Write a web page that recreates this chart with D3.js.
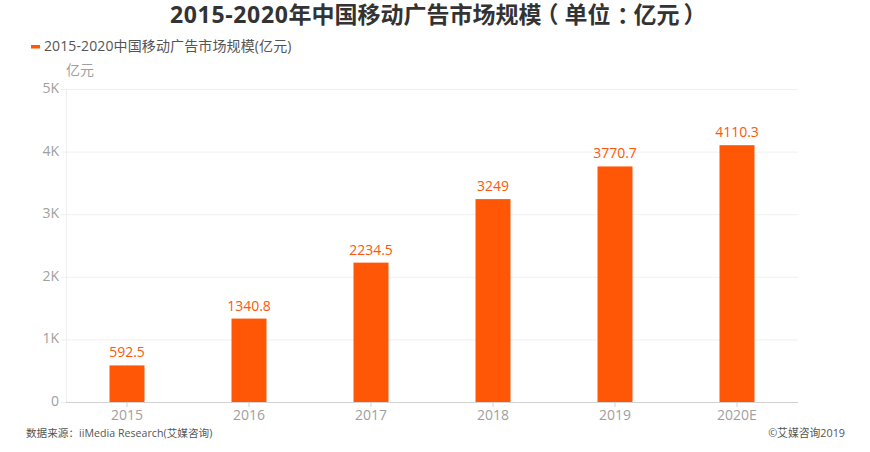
<!DOCTYPE html>
<html><head><meta charset="utf-8">
<script src="https://cdnjs.cloudflare.com/ajax/libs/d3/7.8.5/d3.min.js"></script>
<style>html,body{margin:0;padding:0;background:#fff;overflow:hidden}text{font-family:"Open Sans","Noto Sans CJK SC",sans-serif}</style>
</head><body><svg id="c" width="870" height="452"></svg>
<script>
const categories = ["2015","2016","2017","2018","2019","2020E"];
const values = [592.5,1340.8,2234.5,3249,3770.7,4110.3];
const valueLabels = ["592.5","1340.8","2234.5","3249","3770.7","4110.3"];
const yTicks = [0,1000,2000,3000,4000,5000];
const yTickLabels = ["0","1K","2K","3K","4K","5K"];
const titleText = "2015-2020年中国移动广告市场规模（单位：亿元）";
const legendText = "2015-2020中国移动广告市场规模(亿元)";
const unitText = "亿元";
const sourceText = "数据来源：iiMedia Research(艾媒咨询)";
const copyrightText = "©艾媒咨询2019";
const barColor = "#ff5706";

const svg = d3.select("#c");
const x = d3.scaleBand().domain(categories).range([66,798]);
const y = d3.scaleLinear().domain([0,5000]).range([402.5,89.5]);

svg.append("g").selectAll("line").data(yTicks.slice(1)).join("line")
  .attr("x1",66).attr("x2",798).attr("y1",d=>y(d)).attr("y2",d=>y(d))
  .attr("stroke","#f0f0f0").attr("stroke-width",1);

svg.append("line").attr("x1",66.5).attr("x2",66.5).attr("y1",89).attr("y2",402.5).attr("stroke","#eeeeee");
svg.append("g").selectAll("line").data(yTicks).join("line")
  .attr("x1",61).attr("x2",66).attr("y1",d=>y(d)).attr("y2",d=>y(d)).attr("stroke","#eeeeee");
svg.append("g").selectAll("text").data(yTicks).join("text")
  .attr("x",59).attr("y",d=>y(d)+3.5).attr("text-anchor","end")
  .attr("font-size",14).attr("fill","#a0a0a0").text((d,i)=>yTickLabels[i]);

svg.append("g").selectAll("rect").data(values).join("rect")
  .attr("x",(d,i)=>x(categories[i])+x.bandwidth()/2-17.5).attr("width",35)
  .attr("y",d=>y(d)).attr("height",d=>y(0)-y(d)).attr("fill",barColor);

svg.append("g").selectAll("text").data(values).join("text")
  .attr("x",(d,i)=>x(categories[i])+x.bandwidth()/2).attr("y",d=>y(d)-8)
  .attr("text-anchor","middle").attr("font-size",14).attr("fill",barColor)
  .text((d,i)=>valueLabels[i]);

svg.append("line").attr("x1",66).attr("x2",798).attr("y1",402.5).attr("y2",402.5).attr("stroke","#d2d2d2");
svg.append("g").selectAll("line").data(categories).join("line")
  .attr("x1",d=>x(d)+x.bandwidth()/2).attr("x2",d=>x(d)+x.bandwidth()/2)
  .attr("y1",402.5).attr("y2",407).attr("stroke","#d2d2d2");
svg.append("g").selectAll("text").data(categories).join("text")
  .attr("x",d=>x(d)+x.bandwidth()/2).attr("y",419.5).attr("text-anchor","middle")
  .attr("font-size",14).attr("fill","#a0a0a0").text(d=>d);

// per-character nudges: wider digits, centred full-width punctuation
const titleChars = Array.from(titleText);
const titleDx = titleChars.map((c,i)=>{
  if (i>0 && i<=9) return 0.65;
  if (c==="（") return -6;
  if (c==="：") return 6.5;
  if (titleChars[i-1]==="（") return 6;
  if (titleChars[i-1]==="：") return -6.5;
  if (c==="）") return 4;
  return 0;
}).join(" ");
svg.append("text").attr("x",170).attr("y",23).attr("dx",titleDx)
  .attr("font-size",23).attr("font-weight",700).attr("fill","#333").text(titleText);

svg.append("rect").attr("x",31).attr("y",45).attr("width",9).attr("height",3.5).attr("fill",barColor);
svg.append("text").attr("x",44).attr("y",50.5).attr("font-size",14).attr("letter-spacing",0.12).attr("fill","#555").text(legendText);
svg.append("text").attr("x",66).attr("y",75).attr("font-size",14).attr("fill","#a0a0a0").text(unitText);
svg.append("text").attr("x",26).attr("y",436.5).attr("font-size",10.6).attr("letter-spacing",0.03).attr("fill","#555").text(sourceText);
svg.append("text").attr("x",845).attr("y",436.5).attr("text-anchor","end").attr("font-size",10.8).attr("fill","#555").text(copyrightText);
</script></body></html>
